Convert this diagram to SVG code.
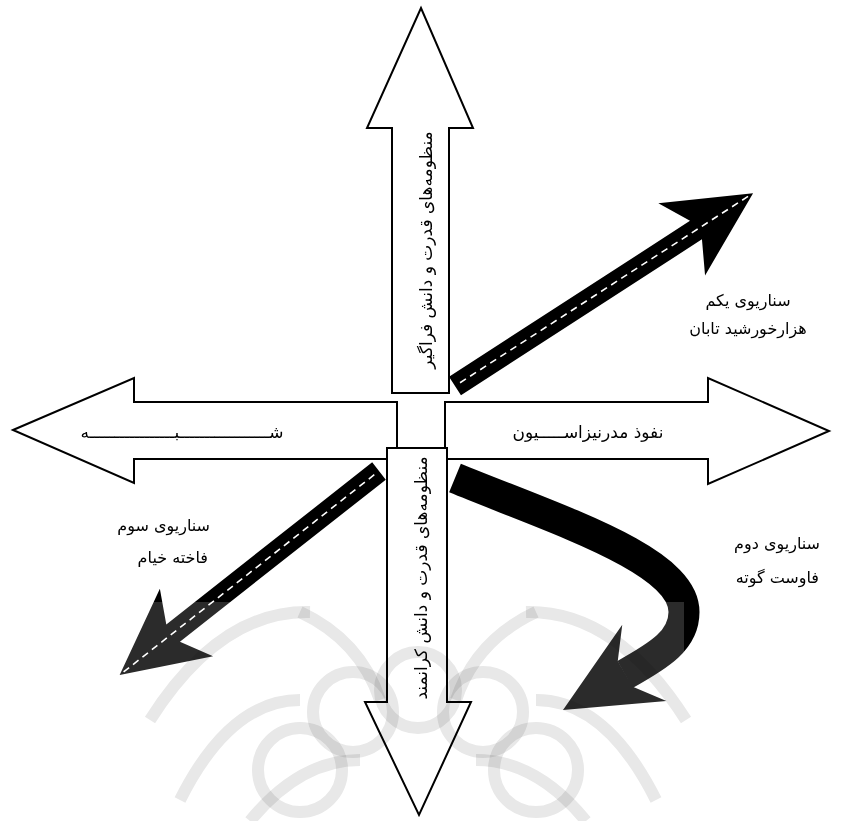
<svg xmlns="http://www.w3.org/2000/svg" width="848" height="821" viewBox="0 0 848 821">
<style>
.box{fill:#fff;stroke:#000;stroke-width:2;stroke-linejoin:miter}
.road{fill:#000}
.dash{stroke:#fff;stroke-width:1.6;stroke-dasharray:7 5;fill:none}
.t{font-family:"DejaVu Sans",sans-serif;font-size:17px;fill:#000}
.lb{font-family:"DejaVu Sans",sans-serif;font-size:16px;fill:#000}
.wm{fill:none;stroke:#e8e8e8;stroke-width:12;mix-blend-mode:multiply}
</style>
<rect width="848" height="821" fill="#fff"/>
<g id="connectors">
<g id="scenario1-arrow" transform="translate(455,386) rotate(-32.9)">
<polygon class="road" points="0,-11 287,-11 270,-43 355,0 270,43 287,11 0,11"/>
<line class="dash" x1="6" y1="0" x2="351" y2="0"/>
</g>
<g id="scenario3-arrow" transform="translate(379,471) rotate(141.8)">
<polygon class="road" points="0,-11 262,-11 245,-43 330,0 245,43 262,11 0,11"/>
<line class="dash" x1="6" y1="0" x2="326" y2="0"/>
</g>
<g id="scenario2-arrow">
<path d="M455,478 C560,521 684,560 684,612 C684,640 660,655 625,674.5" fill="none" stroke="#000" stroke-width="31"/>
<g transform="translate(563,710) rotate(-30.1)">
<polygon class="road" points="0,0 94,-44 72,-15 72,15 94,44"/>
</g>
</g>
</g>
<rect x="95" y="602" width="589" height="219" fill="#fff" fill-opacity="0.17"/>
<g id="node-left">
<polygon class="box" points="13,430 134,378 134,402 397,402 397,459 134,459 134,483"/>
<text class="t" x="182" y="438" text-anchor="middle">شــــــــــــــــــبـــــــــــــــــه</text>
</g>
<g id="node-right">
<polygon class="box" points="445,402 708,402 708,378 829,431 708,484 708,459 445,459"/>
<text class="t" x="588" y="438" text-anchor="middle">نفوذ   مدرنیزاســـــیون</text>
</g>
<g id="node-top">
<polygon class="box" points="392,393 392,128 367,128 421,8 473,128 449,128 449,393"/>
<text class="t" transform="translate(426,250) rotate(-90)" text-anchor="middle" dominant-baseline="central">منظومه‌های قدرت و دانش فراگیر</text>
</g>
<g id="node-bottom">
<polygon class="box" points="387,448 447,448 447,702 471,702 419,815 365,702 387,702"/>
<text class="t" transform="translate(421,578) rotate(-90)" text-anchor="middle" dominant-baseline="central">منظومه‌های قدرت و دانش کرانمند</text>
</g>
<g id="watermark">
<circle class="wm" cx="353" cy="712" r="40"/>
<circle class="wm" cx="483" cy="712" r="40"/>
<circle class="wm" cx="418" cy="690" r="38"/>
<circle class="wm" cx="300" cy="770" r="42"/>
<circle class="wm" cx="536" cy="770" r="42"/>
<path class="wm" d="M150,720 Q220,610 310,612"/>
<path class="wm" d="M686,720 Q616,610 526,612"/>
<path class="wm" d="M300,612 Q360,640 380,700"/>
<path class="wm" d="M536,612 Q476,640 456,700"/>
<path class="wm" d="M180,800 Q230,700 300,700"/>
<path class="wm" d="M656,800 Q606,700 536,700"/>
<path class="wm" d="M250,821 Q300,760 360,760"/>
<path class="wm" d="M586,821 Q536,760 476,760"/>
</g>
<g id="label-s1">
<text class="lb" x="748" y="306" text-anchor="middle">سناریوی یکم</text>
<text class="lb" x="748" y="334" text-anchor="middle">هزارخورشید تابان</text>
</g>
<g id="label-s3">
<text class="lb" x="210" y="531" text-anchor="end">سناریوی سوم</text>
<text class="lb" x="208" y="563" text-anchor="end">فاخته خیام</text>
</g>
<g id="label-s2">
<text class="lb" x="820" y="549" text-anchor="end">سناریوی دوم</text>
<text class="lb" x="819" y="583" text-anchor="end">فاوست گوته</text>
</g>
</svg>
